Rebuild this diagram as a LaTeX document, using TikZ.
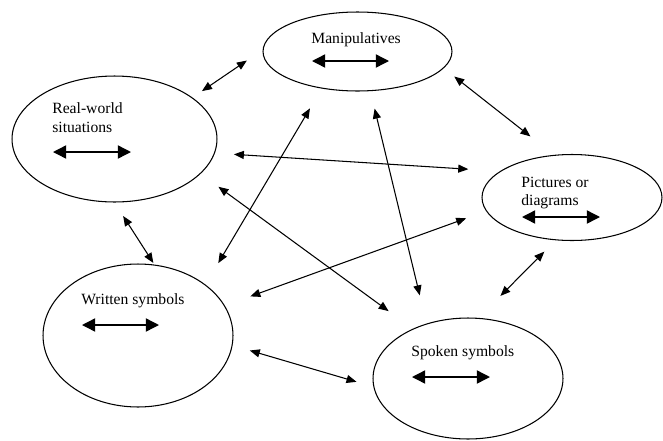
\documentclass[tikz,border=0pt]{standalone}
\usepackage{fontspec}
\setmainfont{Liberation Serif}
\usetikzlibrary{shapes.geometric, arrows.meta, calc}

\begin{document}
\begin{tikzpicture}[x=0.02cm, y=-0.02cm,
            every node/.style={font=\fontsize{8.9}{10.5}\selectfont},
            blob/.style={draw, ellipse, line width=0.6pt, inner sep=0pt},
            txt/.style={anchor=base west, align=left, inner sep=0pt},
            link/.style={{Triangle[length=5.7pt,width=4.6pt]}-{Triangle[length=5.7pt,width=4.6pt]}, line width=0.6pt},
            twoway/.style={{Triangle[length=7.5pt,width=7.5pt]}-{Triangle[length=7.5pt,width=7.5pt]}, line width=0.8pt}]
            \useasboundingbox (0,0) rectangle (663,440);

            % the five ellipses
            \node[blob, minimum width=3.78cm, minimum height=1.58cm] (manip) at (357.5,51.5) {};
            \node[blob, minimum width=4.1cm, minimum height=2.52cm] (real) at (114.5,139) {};
            \node[blob, minimum width=3.6cm, minimum height=1.72cm] (pict) at (572,197.5) {};
            \node[blob, minimum width=3.8cm, minimum height=2.86cm] (written) at (138,335.5) {};
            \node[blob, minimum width=3.8cm, minimum height=2.42cm] (spoken) at (468,378.5) {};

            % texts (base = last line)
            \node[txt] (manipT) at (311,43) {Manipulatives};
            \node[txt] (realT) at (52,132) {Real-world\\situations};
            \node[txt, font=\fontsize{8.9}{9.8}\selectfont] (pictT) at (521,205) {Pictures or\\diagrams};
            \node[txt] (writtenT) at (81,304) {Written symbols};
            \node[txt] (spokenT) at (411,356) {Spoken symbols};

            % arrows inside
            \draw[twoway] ($(manip)+(-45.5,9.5)$) -- ++(77,0);
            \draw[twoway] ($(real)+(-61.5,13)$) -- ++(78,0);
            \draw[twoway] ($(pict)+(-50,19.5)$) -- ++(78,0);
            \draw[twoway] ($(written)+(-56,-10.5)$) -- ++(77,0);
            \draw[twoway] ($(spoken)+(-56,-1.5)$) -- ++(78,0);

            % links
            \draw[link, shorten <=6.5pt, shorten >=10.8pt] (real.28.5) -- (manip.179.4);
            \draw[link, shorten <=7.6pt, shorten >=17pt] (manip.-11.5) -- (pict.113.6);
            \draw[link, shorten <=10.8pt, shorten >=18pt] (real.-8.45) -- (pict.160.6);
            \draw[link, shorten <=13.1pt, shorten >=14.2pt] (manip.-134.2) -- (written.37.7);
            \draw[link, shorten <=12.5pt, shorten >=17pt] (real.-22.1) -- (spoken.138.9);
            \draw[link, shorten <=10.2pt, shorten >=16.5pt] (manip.-72.6) -- (spoken.127.1);
            \draw[link, shorten <=15.4pt, shorten >=12pt] (written.19.5) -- (pict.189);
            \draw[link, shorten <=9.1pt, shorten >=17.6pt] (pict.-111.9) -- (spoken.80.4);
            \draw[link, shorten <=9.1pt, shorten >=1.1pt] (real.-90) -- (written.77.9);
            \draw[link, shorten <=10.2pt, shorten >=10pt] (written.-6.4) -- (spoken.185);
\end{tikzpicture}
\end{document}
